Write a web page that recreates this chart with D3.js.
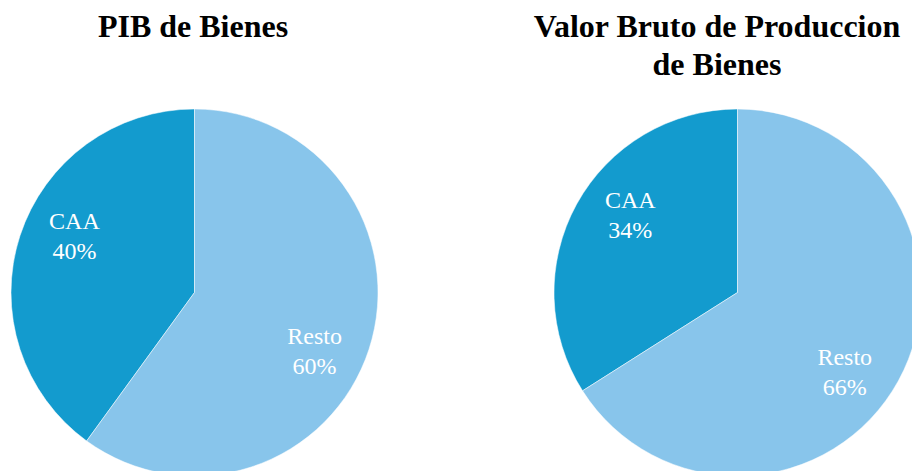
<!DOCTYPE html>
<html>
<head>
<meta charset="utf-8">
<script src="https://cdn.jsdelivr.net/npm/d3@7"></script>
<style>
  body { margin: 0; background: #fff; }
  svg { display: block; }
</style>
</head>
<body>
<div id="chart"></div>
<script>
// datos de cada torta
const categorias = ['CAA', 'Resto'];
const pibBienes = [40, 60];
const vbpBienes = [34, 66];
const titulos = [['PIB de Bienes'], ['Valor Bruto de Produccion', 'de Bienes']];

const width = 912;
const height = 471;
const radius = 183.5;
const colores = d3.scaleOrdinal()
                  .domain(categorias)
                  .range(['#139bce', '#88c5eb']);

const svg = d3.select('#chart')
              .append('svg')
              .attr('width', width)
              .attr('height', height);

const pie = d3.pie()
              .sort(null)
              .value(d => d.valor)
              .startAngle(0)
              .endAngle(-2 * Math.PI);  // CAA a la izquierda, en sentido antihorario

const arc = d3.arc().innerRadius(0).outerRadius(radius);
const labelArc = d3.arc().innerRadius(133).outerRadius(133);

const pies = [
  { valores: pibBienes, cx: 194.5, cy: 292.5, tx: 193, titulo: titulos[0] },
  { valores: vbpBienes, cx: 737.5, cy: 292.5, tx: 717, titulo: titulos[1] }
];

pies.forEach(p => {
  const data = categorias.map((c, i) => ({ cat: c, valor: p.valores[i] }));
  const g = svg.append('g').attr('transform', `translate(${p.cx},${p.cy})`);

  const arcs = pie(data);

  g.selectAll('path')
   .data(arcs)
   .enter()
   .append('path')
   .attr('d', arc)
   .attr('fill', d => colores(d.data.cat))
   .attr('stroke', '#fff')
   .attr('stroke-width', 0.5);

  // etiquetas (un poco giradas respecto al centro del sector, como en Excel)
  const lbl = g.selectAll('text.lbl')
   .data(arcs)
   .enter()
   .append('text')
   .attr('class', 'lbl')
   .attr('transform', d => {
     const shift = 0.13;
     const c = labelArc.centroid({ startAngle: d.startAngle + shift, endAngle: d.endAngle + shift });
     return `translate(${c[0]},${c[1]})`;
   })
   .attr('text-anchor', 'middle')
   .attr('fill', '#fff')
   .style('font-family', '"Liberation Serif", "Times New Roman", serif')
   .style('font-size', '24px');

  lbl.append('tspan').attr('x', 0).attr('y', -6).text(d => d.data.cat);
  lbl.append('tspan').attr('x', 0).attr('y', 24).text(d => d.data.valor + '%');

  // titulo
  const t = svg.append('text')
   .attr('text-anchor', 'middle')
   .attr('fill', '#000')
   .style('font-family', '"Liberation Serif", "Times New Roman", serif')
   .style('font-weight', 'bold')
   .style('font-size', '32px');

  p.titulo.forEach((line, i) => {
    t.append('tspan').attr('x', p.tx).attr('y', 37 + i * 38).text(line);
  });
});
</script>
</body>
</html>
